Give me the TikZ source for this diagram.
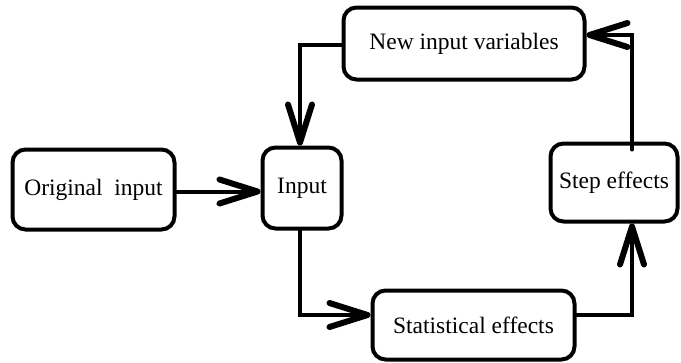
\documentclass[tikz,border=0pt]{standalone}
\usepackage{fontspec}
\setmainfont{Liberation Serif}
\usetikzlibrary{arrows.meta}
\begin{document}
\begin{tikzpicture}[x=1pt,y=-1pt,
  box/.style={draw,line width=4pt,rounded corners=13pt,minimum width=#1,inner sep=0pt,font=\fontsize{23.5}{27}\selectfont},
  barb/.tip={Straight Barb[length=38pt,width=24pt,line width=6pt,line cap=round,line join=round]},
  conn/.style={line width=4pt,line cap=round,line join=miter,-barb}]
\useasboundingbox (0,0) rectangle (681,362);
\node[box=162pt,minimum height=80pt] (orig) at (93.5,189.5) {Original~ input};
\node[box=79pt,minimum height=81pt] (input) at (302,188) {Input};
\node[box=241pt,minimum height=72pt] (niv) at (464,43.5) {New input variables};
\node[box=127pt,minimum height=78pt] (step) at (614,182.5) {Step effects};
\node[box=202pt,minimum height=69pt] (stat) at (473.5,325) {Statistical effects};
\draw[conn] ([yshift=-2pt]orig.east) -- ([yshift=-2pt]orig.east -| input.west);
\draw[conn] ([yshift=-1.5pt]niv.west) -| ([xshift=-2pt]input.north);
\draw[conn] ([xshift=-2pt]input.south) |- ([yshift=10pt]stat.west);
\draw[conn] ([yshift=10pt]stat.east) -| ([xshift=18pt]step.south);
\draw[conn] ([xshift=18pt,yshift=-8pt]step.north) |- ([yshift=8.5pt]niv.east);
\end{tikzpicture}
\end{document}
